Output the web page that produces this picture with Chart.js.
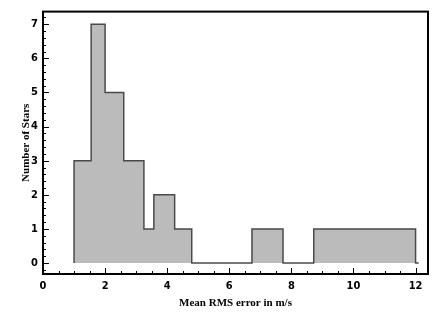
<!DOCTYPE html>
<html>
<head>
<meta charset="utf-8">
<script src="https://cdn.jsdelivr.net/npm/chart.js@4.4.1/dist/chart.umd.min.js"></script>
<style>
  html, body { margin: 0; padding: 0; background: #ffffff; }
  #wrap { width: 436px; height: 327px; position: relative; }
</style>
</head>
<body>
<div id="wrap"><canvas id="c" width="436" height="327"></canvas></div>
<script>
// Histogram bin edges (m/s) and star counts per bin (last bin: trailing zero segment)
const binEdges = [1.0, 1.55, 2.0, 2.6, 3.25, 3.57, 4.24, 4.79, 6.73, 7.73, 8.72, 12.0, 12.1];
const starCounts = [3, 7, 5, 3, 1, 2, 1, 0, 1, 0, 1, 0];
const xTickValues = [0, 2, 4, 6, 8, 10, 12];
const yTickValues = [0, 1, 2, 3, 4, 5, 6, 7];
const xTitle = 'Mean RMS error in m/s';
const yTitle = 'Number of Stars';

// step outline: each count holds from its left edge to the next edge
const points = [{ x: binEdges[0], y: 0 }];
for (let i = 0; i < starCounts.length; i++) points.push({ x: binEdges[i], y: starCounts[i] });
points.push({ x: binEdges[binEdges.length - 1], y: 0 });

const tickFont = { family: "'Liberation Sans Narrow', 'DejaVu Sans Condensed', 'Liberation Sans', Arial", size: 11, weight: 'bold' };
const titleFont = { family: "'Liberation Serif', 'DejaVu Serif', serif", size: 11, weight: 'bold' };

const frameTicks = {
  id: 'frameTicks',
  afterDraw(chart) {
    const ctx = chart.ctx;
    const a = chart.chartArea;
    const xs = chart.scales.x, ys = chart.scales.y;
    ctx.save();
    ctx.strokeStyle = '#000';
    ctx.lineWidth = 1;
    for (let v = 0; v <= xs.max + 1e-9; v += 0.5) {
      const px = Math.round(xs.getPixelForValue(v)) + 0.5;
      const major = Math.abs(v / 2 - Math.round(v / 2)) < 1e-6;
      ctx.beginPath();
      ctx.moveTo(px, a.bottom);
      ctx.lineTo(px, a.bottom - (major ? 6 : 3));
      ctx.stroke();
    }
    const start = Math.ceil(ys.min / 0.2 - 1e-6) * 0.2;
    for (let v = start; v <= ys.max + 1e-9; v += 0.2) {
      const py = Math.round(ys.getPixelForValue(v)) + 0.5;
      const major = Math.abs(v - Math.round(v)) < 1e-6;
      ctx.beginPath();
      ctx.moveTo(a.left, py);
      ctx.lineTo(a.left + (major ? 6 : 3), py);
      ctx.stroke();
    }
    ctx.lineWidth = 2;
    ctx.strokeRect(a.left, a.top, a.right - a.left, a.bottom - a.top);
    ctx.restore();
  }
};

new Chart(document.getElementById('c'), {
  type: 'line',
  data: {
    datasets: [{
      data: points,
      stepped: 'before',
      borderColor: '#4a4a4a',
      borderWidth: 1.5,
      backgroundColor: '#bbbbbb',
      fill: 'origin',
      pointRadius: 0,
      tension: 0
    }]
  },
  options: {
    responsive: false,
    animation: false,
    devicePixelRatio: 1,
    layout: { padding: { top: 6, right: 8, left: 0, bottom: 0 } },
    plugins: { legend: { display: false }, tooltip: { enabled: false } },
    scales: {
      x: {
        type: 'linear',
        min: 0, max: 12.4,
        grid: { display: false, drawTicks: false },
        border: { display: false },
        afterBuildTicks(s) { s.ticks = xTickValues.map(v => ({ value: v })); },
        afterFit(s) { s.height = 53; },
        ticks: { color: '#000', font: tickFont, padding: 6, maxRotation: 0, includeBounds: false },
        title: { display: true, text: xTitle, color: '#000', font: titleFont, padding: 17 }
      },
      y: {
        type: 'linear',
        min: -0.32, max: 7.37,
        grid: { display: false, drawTicks: false },
        border: { display: false },
        afterBuildTicks(s) { s.ticks = yTickValues.map(v => ({ value: v })); },
        afterFit(s) { s.width = 43; },
        ticks: { color: '#000', font: tickFont, padding: 5, includeBounds: false },
        title: { display: true, text: yTitle, color: '#000', font: titleFont, padding: 20 }
      }
    }
  },
  plugins: [frameTicks]
});
</script>
</body>
</html>
